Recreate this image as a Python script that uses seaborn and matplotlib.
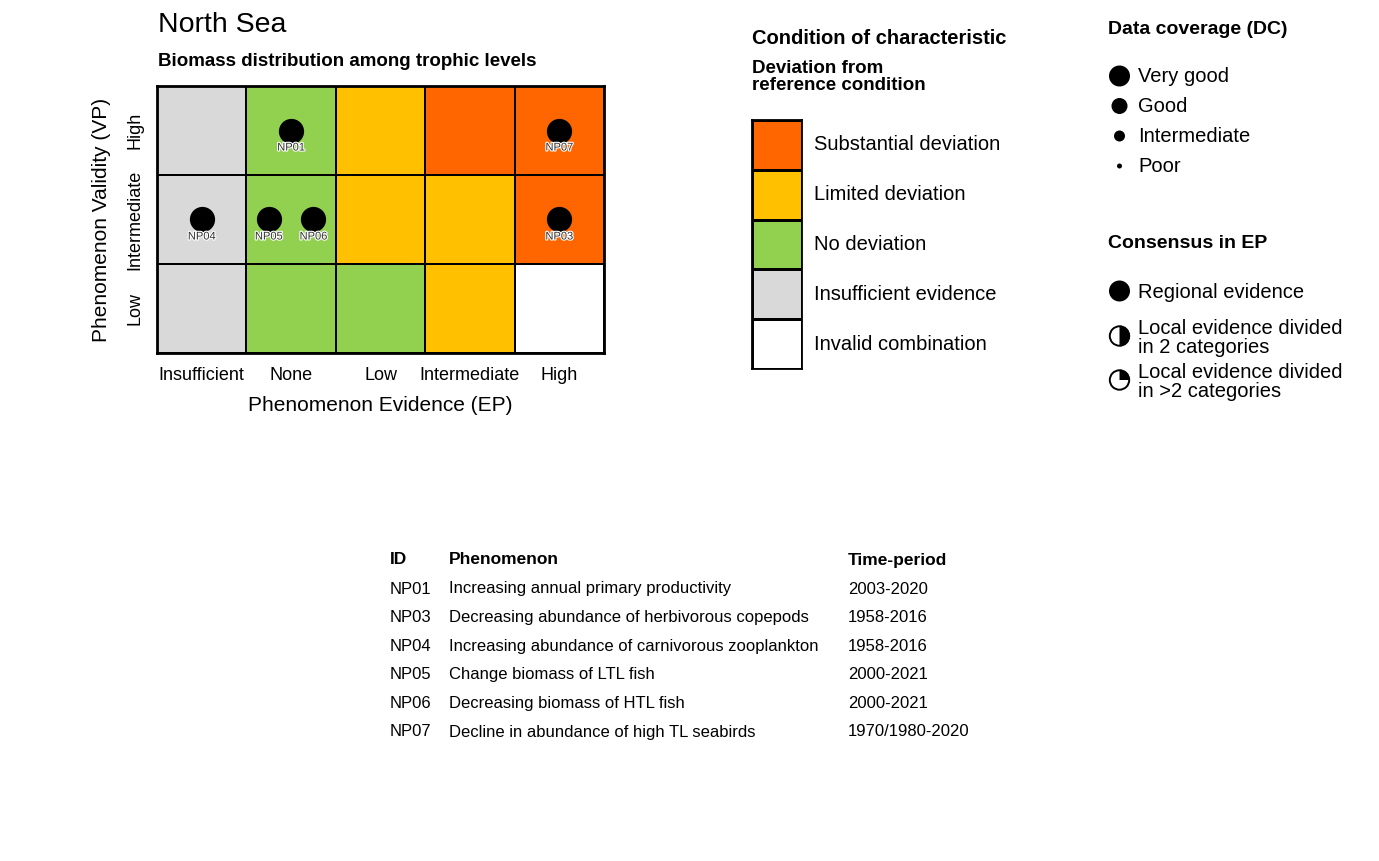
import numpy as np
import pandas as pd
import matplotlib
matplotlib.use('Agg')
import matplotlib.pyplot as plt
import matplotlib.patheffects as pe
from matplotlib.colors import ListedColormap
from matplotlib.patches import Circle, Wedge
import seaborn as sns

sns.set_theme(style='white')
plt.rcParams['font.family'] = ['Liberation Sans', 'DejaVu Sans']

# colours, one per condition
colors = ['#FFFFFF', '#D9D9D9', '#92D050', '#FFC000', '#FF6600']
condition_names = ['Invalid combination', 'Insufficient evidence', 'No deviation',
                   'Limited deviation', 'Substantial deviation']

ep_levels = ['Insufficient', 'None', 'Low', 'Intermediate', 'High']
vp_levels = ['High', 'Intermediate', 'Low']

# condition code per cell (rows = VP, columns = EP)
row_high = [1, 2, 3, 4, 4]
row_intermediate = [1, 2, 3, 3, 4]
row_low = [1, 2, 2, 3, 0]

# phenomena placed in the matrix
point_ids = ['NP01', 'NP03', 'NP04', 'NP05', 'NP06', 'NP07']
point_ep = [1.5, 4.5, 0.5, 1.25, 1.75, 4.5]
point_vp = [0.5, 1.5, 1.5, 1.5, 1.5, 0.5]

# table
table_ids = ['NP01', 'NP03', 'NP04', 'NP05', 'NP06', 'NP07']
table_names = ['Increasing annual primary productivity',
               'Decreasing abundance of herbivorous copepods',
               'Increasing abundance of carnivorous zooplankton',
               'Change biomass of LTL fish',
               'Decreasing biomass of HTL fish',
               'Decline in abundance of high TL seabirds']
table_periods = ['2003-2020', '1958-2016', '1958-2016', '2000-2021', '2000-2021', '1970/1980-2020']

W, H = 1379, 861
cmap = ListedColormap(colors)


def px_axes(x0, y0, x1, y1):
    return fig.add_axes([x0 / W, 1 - y1 / H, (x1 - x0) / W, (y1 - y0) / H])


fig = plt.figure(figsize=(W / 100, H / 100), dpi=100)

# overlay in pixel units for the text and legend glyphs
page = fig.add_axes([0, 0, 1, 1], zorder=5)
page.set_xlim(0, W)
page.set_ylim(H, 0)
page.set_aspect('equal')
page.axis('off')
page.patch.set_alpha(0)


def put(x, y, s, size=14.5, weight='normal', **kw):
    page.text(x, y, s, fontsize=size, fontweight=weight, color='black', va='center', **kw)


# main matrix
ax = px_axes(157, 86, 604, 353)
matrix = pd.DataFrame([row_high, row_intermediate, row_low], index=vp_levels, columns=ep_levels)
sns.heatmap(matrix, ax=ax, cmap=cmap, vmin=-0.5, vmax=4.5, cbar=False,
            linewidths=1.3, linecolor='black')
for s in ax.spines.values():
    s.set_visible(True)
    s.set_linewidth(2)
    s.set_color('black')
ax.tick_params(length=0, pad=10)
ax.set_xticklabels(ep_levels, fontsize=13, rotation=0, color='black')
ax.set_yticklabels(vp_levels, fontsize=13, rotation=90, va='center', color='black')
ax.set_xlabel('Phenomenon Evidence (EP)', fontsize=15, color='black', labelpad=9)
ax.set_ylabel('Phenomenon Validity (VP)', fontsize=15, color='black', labelpad=11)

points = pd.DataFrame({'ep': point_ep, 'vp': point_vp, 'id': point_ids})
sns.scatterplot(data=points, x='ep', y='vp', ax=ax, color='black', s=330, linewidth=0,
                legend=False, zorder=4)
ax.set_xlabel('Phenomenon Evidence (EP)')
ax.set_ylabel('Phenomenon Validity (VP)')
for _, p in points.iterrows():
    ax.annotate(p['id'], (p['ep'], p['vp']), xytext=(0, -17), textcoords='offset pixels',
                ha='center', va='center', fontsize=8, color='#333333', zorder=6,
                path_effects=[pe.withStroke(linewidth=1.6, foreground='white')])

put(158, 25, 'North Sea', size=20.5)
put(158, 62, 'Biomass distribution among trophic levels', size=13.5, weight='bold')

# condition legend
put(752, 39, 'Condition of characteristic', size=14.5, weight='bold')
put(752, 77, 'Deviation from\nreference condition', size=13.5, weight='bold', linespacing=0.95)

ax_key = px_axes(752, 120, 802, 369)
key = pd.DataFrame({'code': [4, 3, 2, 1, 0]})
sns.heatmap(key, ax=ax_key, cmap=cmap, vmin=-0.5, vmax=4.5, cbar=False,
            linewidths=1, linecolor='black', xticklabels=False, yticklabels=False)
ax_key.set_xlabel('')
ax_key.set_ylabel('')
for s in ax_key.spines.values():
    s.set_visible(True)
    s.set_linewidth(1.3)
    s.set_color('black')
for i, name in enumerate(condition_names[::-1]):
    put(814, 145 + i * 49.9, name)

# data coverage legend
put(1108, 30, 'Data coverage (DC)', size=14, weight='bold')
dc_names = ['Very good', 'Good', 'Intermediate', 'Poor']
dc_radius = [10.5, 8, 5.5, 2.5]
dc_y = [76, 106, 136, 166]
for name, r, y in zip(dc_names, dc_radius, dc_y):
    page.add_patch(Circle((1119.5, y), r, color='black', lw=0))
    put(1138, y, name)

# consensus legend
put(1108, 244, 'Consensus in EP', size=14, weight='bold')
page.add_patch(Circle((1119.5, 291), 10.5, color='black', lw=0))
put(1138, 292, 'Regional evidence')

page.add_patch(Circle((1119.5, 336), 9.7, facecolor='white', edgecolor='black', lw=1.4))
page.add_patch(Wedge((1119.5, 336), 10.4, -90, 90, color='black', lw=0))
put(1138, 338, 'Local evidence divided\nin 2 categories', linespacing=0.95)

page.add_patch(Circle((1119.5, 380), 9.7, facecolor='white', edgecolor='black', lw=1.4))
page.add_patch(Wedge((1119.5, 380), 10.4, -90, 0, color='black', lw=0))
put(1138, 382, 'Local evidence divided\nin >2 categories', linespacing=0.95)

# phenomena table
put(390, 560, 'ID', size=12.5, weight='bold')
put(449, 560, 'Phenomenon', size=12.5, weight='bold')
put(848, 560, 'Time-period', size=12.5, weight='bold')
for i, (a, b, c) in enumerate(zip(table_ids, table_names, table_periods)):
    y = 589 + i * 28.6
    put(390, y, a, size=12)
    put(449, y, b, size=12)
    put(848, y, c, size=12)

fig.savefig('out.png', dpi=100, facecolor='white')
